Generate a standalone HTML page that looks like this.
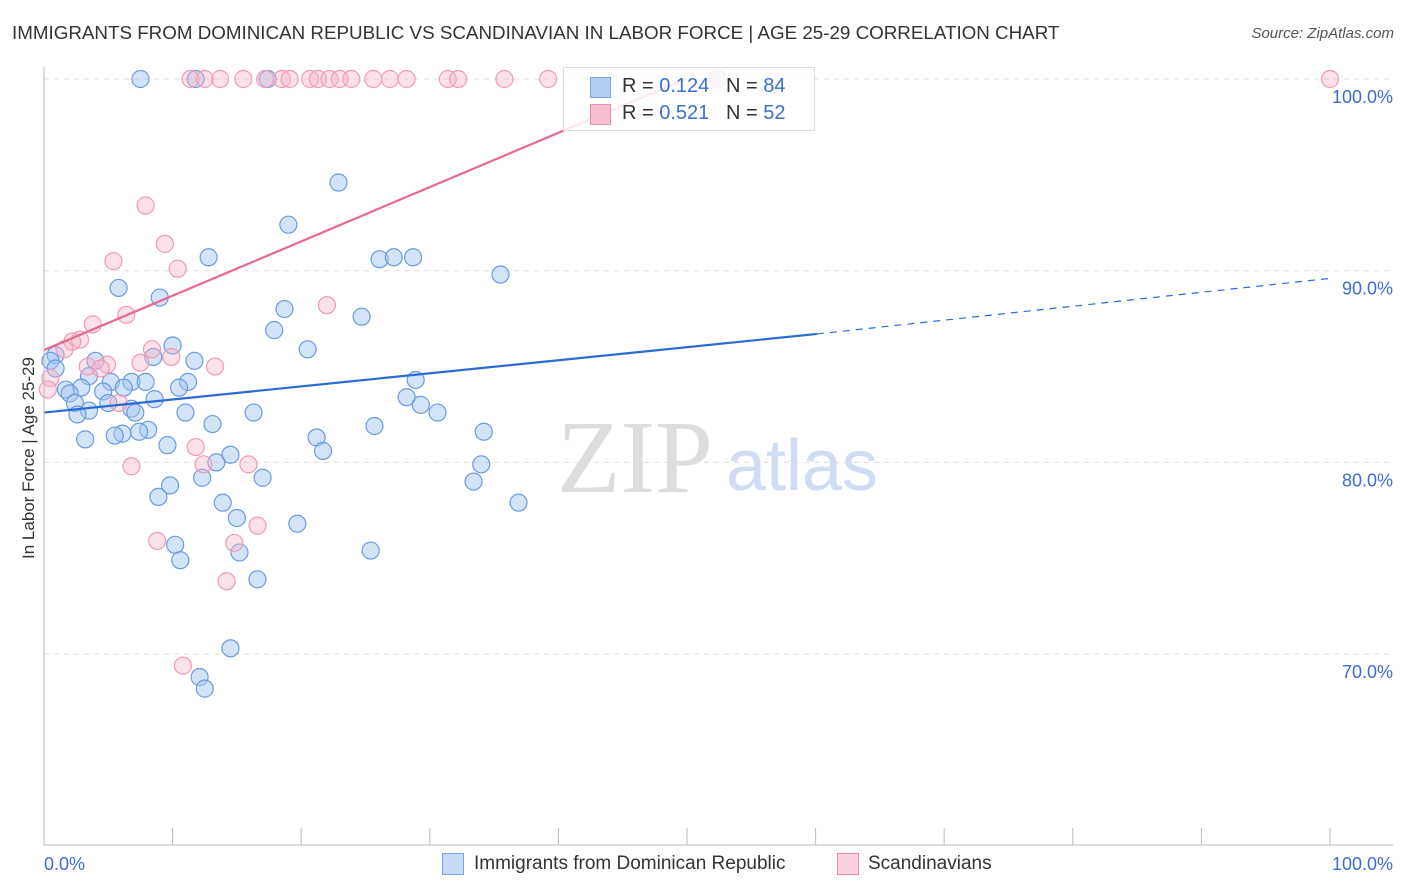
<!DOCTYPE html>
<html><head><meta charset="utf-8"><style>
body{margin:0;width:1406px;height:892px;background:#fff;font-family:"Liberation Sans",sans-serif;overflow:hidden;position:relative}
.t{position:absolute;white-space:nowrap}
</style></head><body>
<div class="t" style="left:12px;top:22px;font-size:18.8px;color:#333">IMMIGRANTS FROM DOMINICAN REPUBLIC VS SCANDINAVIAN IN LABOR FORCE | AGE 25-29 CORRELATION CHART</div>
<div class="t" style="right:12px;top:25px;font-size:15px;color:#555;font-style:italic">Source: ZipAtlas.com</div>
<svg id="chart" width="1406" height="892" style="position:absolute;left:0;top:0">
<text x="635" y="492" font-size="104" fill="#ddd" font-family="Liberation Serif" text-anchor="middle">ZIP</text>
<text x="802" y="490" font-size="72" fill="#cfdcf3" font-family="Liberation Sans" text-anchor="middle">atlas</text>
<g id="grid"></g><g id="pts"></g><g id="lines"></g><g id="axes"></g>
<text transform="translate(34,458) rotate(-90)" font-size="17" fill="#333" text-anchor="middle">In Labor Force | Age 25-29</text>
</svg>
<div style="position:absolute;left:563px;top:67px;width:250px;height:62px;border:1px solid #ddd;background:rgba(255,255,255,0.85);font-size:20px;color:#333">
<div style="position:absolute;left:26px;top:9px;width:19px;height:19px;background:#b4cdf3;border:1px solid #7aa3e6"></div>
<div class="t" style="left:58px;top:7px">R = <span style="color:#3a6fd0">0.124</span>&nbsp;&nbsp; N = <span style="color:#3a6fd0">84</span></div>
<div style="position:absolute;left:26px;top:36px;width:19px;height:19px;background:#f8bcd0;border:1px solid #ec8fae"></div>
<div class="t" style="left:58px;top:34px">R = <span style="color:#3a6fd0">0.521</span>&nbsp;&nbsp; N = <span style="color:#3a6fd0">52</span></div>
</div>
<div style="position:absolute;left:442px;top:853px;width:20px;height:20px;background:#c8daf6;border:1px solid #7aa3e6"></div>
<div class="t" style="left:474px;top:853px;font-size:19px;color:#333">Immigrants from Dominican Republic</div>
<div style="position:absolute;left:837px;top:853px;width:20px;height:20px;background:#fbd0de;border:1px solid #ec8fae"></div>
<div class="t" style="left:868px;top:853px;font-size:19px;color:#333">Scandinavians</div>
<script>
const yTicks=[100,90,80,70];
const blueX=[7.5,11.8,17.4,52.4,22.9,19,12.8,26.1,27.2,28.7,35.5,5.8,9.0,18.7,24.7,17.9,20.5,10,8.5,11.7,4,0.9,0.5,0.9,28.9,3.5,5.2,6.8,7.9,11.2,10.5,2.9,1.7,2.0,6.2,4.6,28.2,29.3,8.6,5,2.4,6.8,3.5,11.0,16.3,30.6,2.6,7.1,13.1,25.7,8.1,7.4,6.1,5.5,34.2,3.2,21.2,21.7,9.6,14.5,13.4,34,12.3,17.0,33.4,9.8,8.9,36.9,13.9,15,19.7,10.2,25.4,15.2,10.6,16.6,14.5,12.1,12.5];
const blueY=[100,100,100,100,94.6,92.4,90.7,90.6,90.7,90.7,89.8,89.1,88.6,88.0,87.6,86.9,85.9,86.1,85.5,85.3,85.3,85.6,85.3,84.9,84.3,84.5,84.2,84.2,84.2,84.2,83.9,83.9,83.8,83.6,83.9,83.7,83.4,83.0,83.3,83.1,83.1,82.8,82.7,82.6,82.6,82.6,82.5,82.6,82.0,81.9,81.7,81.6,81.5,81.4,81.6,81.2,81.3,80.6,80.9,80.4,80.0,79.9,79.2,79.2,79.0,78.8,78.2,77.9,77.9,77.1,76.8,75.7,75.4,75.3,74.9,73.9,70.3,68.8,68.2];
const pinkX=[11.4,12.5,13.7,15.5,17.2,18.5,19.1,20.7,21.3,22.2,23,23.9,25.6,26.9,28.2,31.4,32.2,35.8,39.2,52.4,100,7.9,9.4,5.4,10.4,6.4,22,3.8,2.8,2.2,1.6,8.4,9.9,4.9,7.5,13.3,0.5,0.3,3.4,4.4,5.8,11.8,6.8,12.4,15.9,8.8,14.8,16.6,14.2,10.8];
const pinkY=[100,100,100,100,100,100,100,100,100,100,100,100,100,100,100,100,100,100,100,100,100,93.4,91.4,90.5,90.1,87.7,88.2,87.2,86.4,86.3,85.9,85.9,85.5,85.1,85.2,85.0,84.4,83.8,85.0,84.9,83.1,80.8,79.8,79.9,79.9,75.9,75.8,76.7,73.8,69.4];
const blueTrend=[[0,82.6],[60.1,86.7]], blueDash=[[60.1,86.7],[100,89.6]];
const pinkTrend=[[0,85.86],[49.9,100]];
const X=v=>44+v*12.86, Y=v=>79+(100-v)*19.17;
const ns="http://www.w3.org/2000/svg";
function mk(par,tag,at){const e=document.createElementNS(ns,tag);for(const k in at)e.setAttribute(k,at[k]);document.getElementById(par).appendChild(e);return e;}
yTicks.forEach(t=>{
 const l=mk('grid','line',{x1:44,x2:1393,y1:Y(t),y2:Y(t),stroke:'#ddd','stroke-dasharray':'5,5'});
 
 
 const tx=mk('grid','text',{x:1393,y:Y(t)+24,'font-size':18,fill:'#3a6fd0','text-anchor':'end'});
 tx.textContent=t.toFixed(1)+'%';
 
 
});
const a1=mk('axes','line',{x1:44,x2:44,y1:67,y2:845,stroke:'#bbb'});


const a2=mk('axes','line',{x1:44,x2:1393,y1:845,y2:845,stroke:'#bbb'});


for(let i=0;i<=10;i++){const tk=mk('axes','line',{x1:X(i*10),x2:X(i*10),y1:828,y2:845,stroke:'#bbb'});
 
 }
[[0,'0.0%','start',44],[100,'100.0%','end',1393]].forEach(d=>{const t=mk('axes','text',{x:d[3],y:870,'font-size':18,fill:'#3a6fd0','text-anchor':d[2]});t.textContent=d[1];
 
 });
blueX.forEach((v,i)=>{const c=mk('pts','circle',{cx:X(v),cy:Y(blueY[i]),r:8.5,fill:'rgba(160,195,240,0.45)',stroke:'#6a9be0','stroke-width':1.2});
 
 });
pinkX.forEach((v,i)=>{const c=mk('pts','circle',{cx:X(v),cy:Y(pinkY[i]),r:8.5,fill:'rgba(248,180,200,0.4)',stroke:'#f09ab6','stroke-width':1.2});
 
 });
const l1=mk('lines','line',{x1:X(blueTrend[0][0]),y1:Y(blueTrend[0][1]),x2:X(blueTrend[1][0]),y2:Y(blueTrend[1][1]),stroke:'#2a6ad4','stroke-width':2.2});


const l2=mk('lines','line',{x1:X(blueDash[0][0]),y1:Y(blueDash[0][1]),x2:X(blueDash[1][0]),y2:Y(blueDash[1][1]),stroke:'#2a6ad4','stroke-width':1.2,'stroke-dasharray':'7,6'});


const l3=mk('lines','line',{x1:X(pinkTrend[0][0]),y1:Y(pinkTrend[0][1]),x2:X(pinkTrend[1][0]),y2:Y(pinkTrend[1][1]),stroke:'#e8688f','stroke-width':2.2});


</script>
</body></html>
